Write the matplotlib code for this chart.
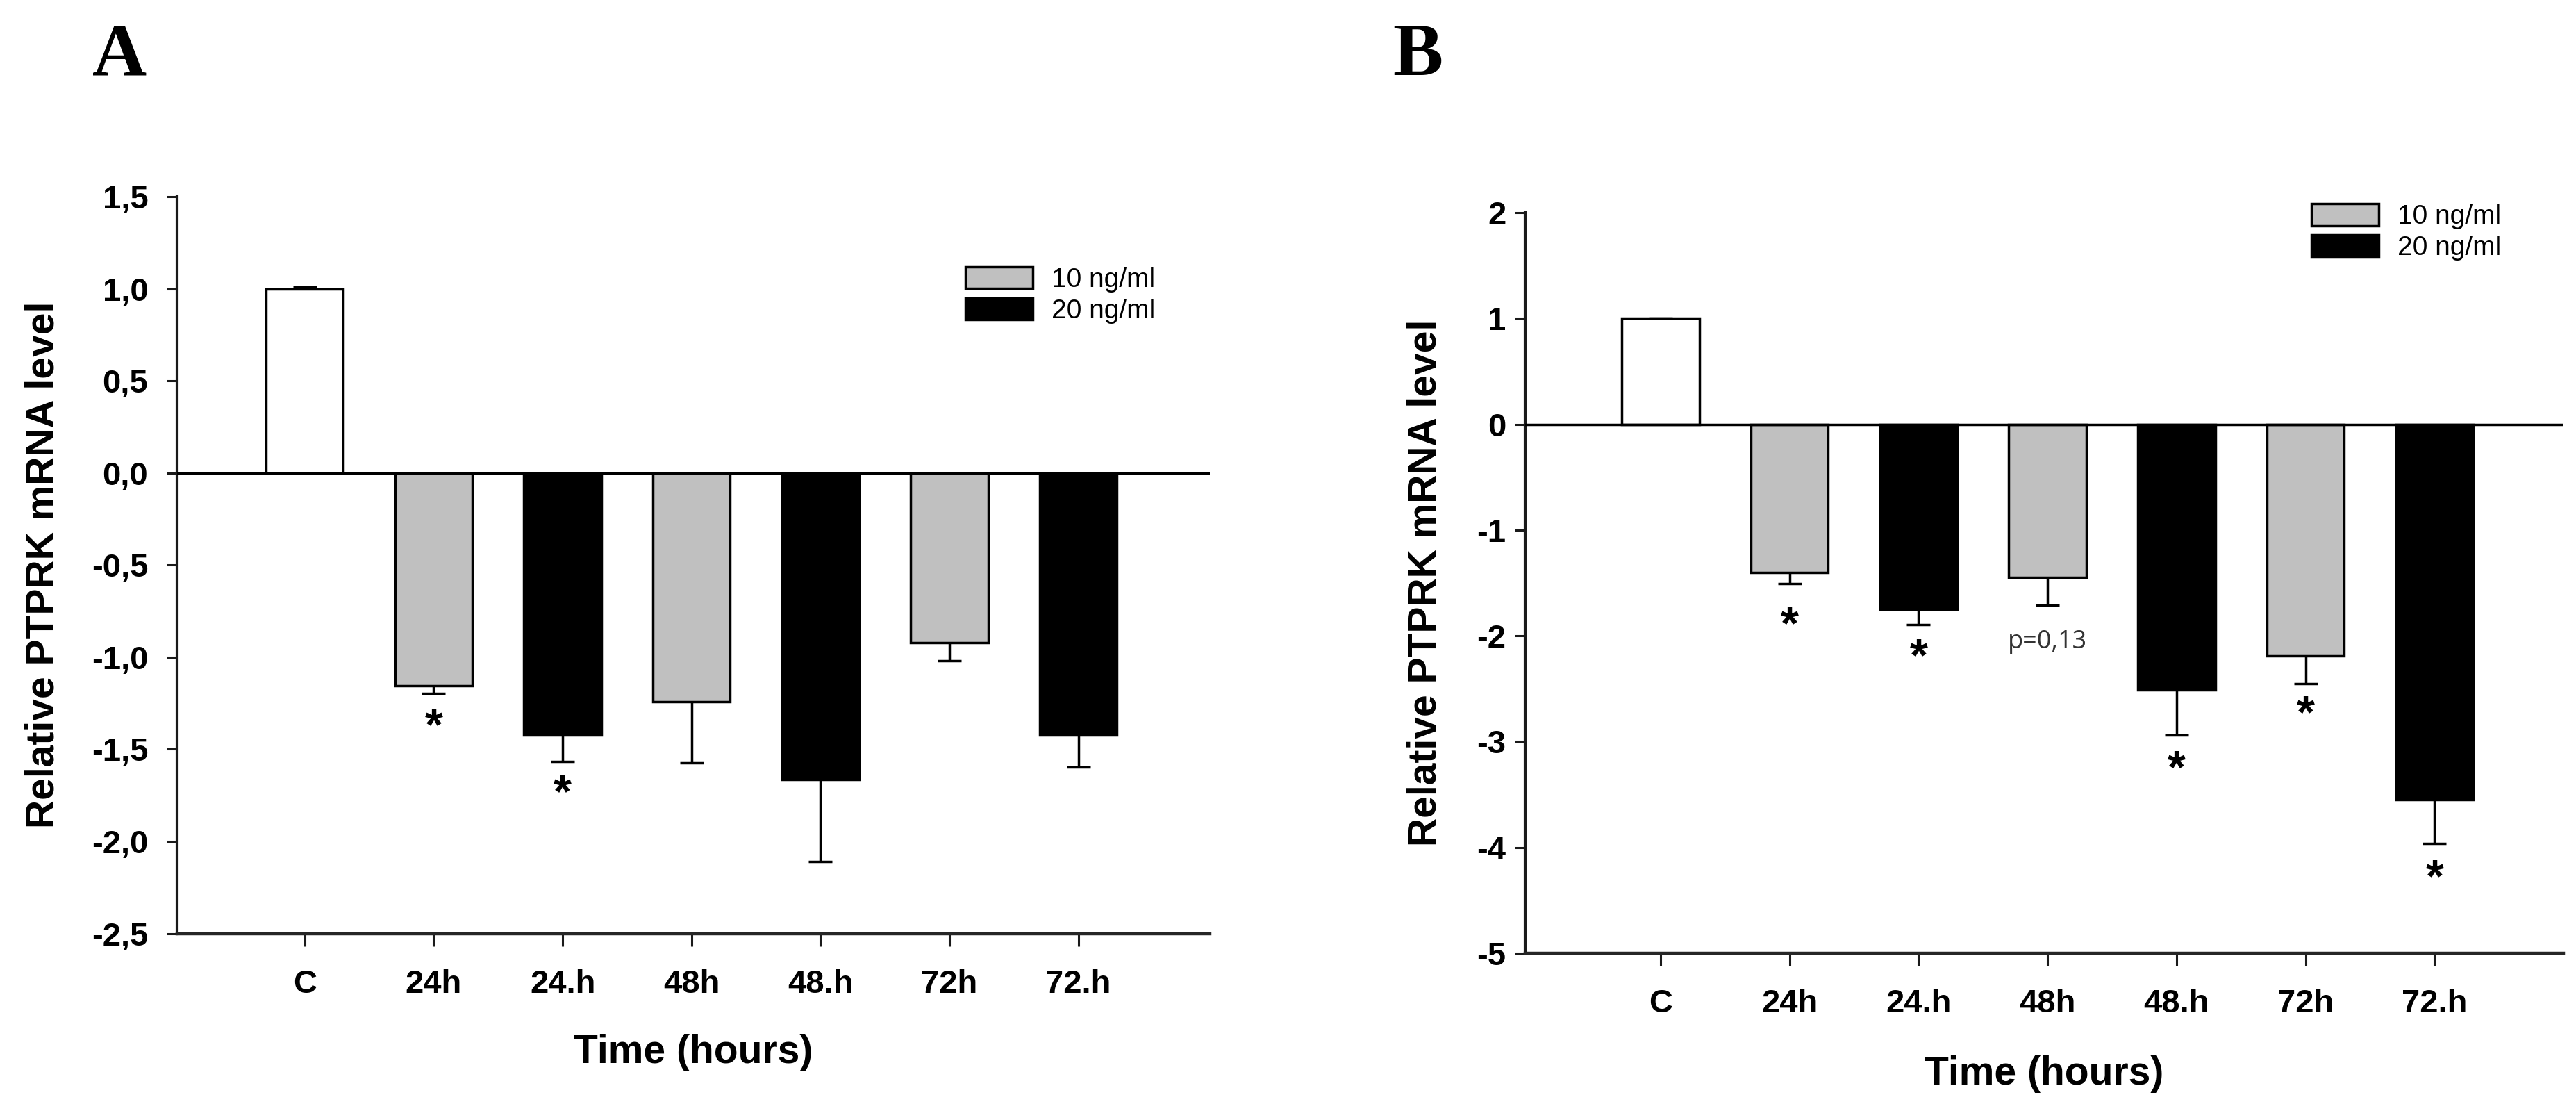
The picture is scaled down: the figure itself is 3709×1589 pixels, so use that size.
import numpy as np
import matplotlib
matplotlib.use("Agg")
import matplotlib.pyplot as plt
import matplotlib.transforms as mtransforms

# ---------------- data ----------------
categories = ['C', '24h', '24.h', '48h', '48.h', '72h', '72.h']
series_labels = ['10 ng/ml', '20 ng/ml']

a_values = [1.0, -1.155, -1.423, -1.242, -1.663, -0.921, -1.423]
a_errors = [0.01, 0.041, 0.145, 0.331, 0.446, 0.099, 0.174]
a_star_idx = [1, 2]
a_star_y = [-1.31, -1.67]
a_yticks = [1.5, 1.0, 0.5, 0.0, -0.5, -1.0, -1.5, -2.0, -2.5]
a_yticklabels = ['1,5', '1,0', '0,5', '0,0', '-0,5', '-1,0', '-1,5', '-2,0', '-2,5']

b_values = [1.0, -1.40, -1.75, -1.45, -2.51, -2.19, -3.55]
b_errors = [0.0, 0.105, 0.145, 0.26, 0.43, 0.26, 0.41]
b_star_idx = [1, 2, 4, 5, 6]
b_star_y = [-1.78, -2.08, -3.14, -2.62, -4.17]
b_note_idx = 3
b_note_y = -2.03
b_note_text = 'p=0,13'
b_yticks = [2, 1, 0, -1, -2, -3, -4, -5]
b_yticklabels = ['2', '1', '0', '-1', '-2', '-3', '-4', '-5']

xlabel = 'Time (hours)'
ylabel = 'Relative PTPRK mRNA level'

# ---------------- style ----------------
W, H = 3709, 1589
DPI = 100
fig = plt.figure(figsize=(W / DPI, H / DPI), dpi=DPI)
fig.patch.set_facecolor('white')

SANS = ['Liberation Sans', 'DejaVu Sans']
SERIF = ['Liberation Serif', 'DejaVu Serif']
GREY = '#c0c0c0'
bar_colors = ['white', GREY, 'black', GREY, 'black', GREY, 'black']

TICK_FS = 34
LABEL_FS = 41
LEG_FS = 28
STAR_FS = 48


def px_rect(left, top, right, bottom):
    return [left / W, 1 - bottom / H, (right - left) / W, (bottom - top) / H]


def draw_panel(ax, values, errors, yticks, yticklabels, ylim, xlim,
               star_idx, star_y, ytick_pad, xlab_y, ylab_x, leg_anchor):
    x = np.arange(len(categories))
    bars = ax.bar(x, values, width=0.6, color=bar_colors, edgecolor='black',
                  linewidth=2.5, zorder=3)
    vals = np.array(values)
    errs = np.array(errors)
    neg = vals < 0
    pos = ~neg
    # one-sided error bars (away from zero)
    if neg.any():
        eb = ax.errorbar(x[neg], vals[neg], yerr=[errs[neg], np.zeros(neg.sum())],
                         fmt='none', ecolor='black', elinewidth=2.5, capsize=12,
                         capthick=2.5, zorder=4)
        eb[1][1].set_visible(False)
    if pos.any():
        eb = ax.errorbar(x[pos], vals[pos], yerr=[np.zeros(pos.sum()), errs[pos]],
                         fmt='none', ecolor='black', elinewidth=2.5, capsize=12,
                         capthick=2.5, zorder=4)
        eb[1][0].set_visible(False)

    ax.axhline(0, color='black', linewidth=2.5, zorder=5)

    ax.set_xlim(*xlim)
    ax.set_ylim(*ylim)
    ax.set_xticks(x)
    ax.set_xticklabels(categories, fontsize=TICK_FS, fontweight='bold', family=SANS)
    ax.set_yticks(yticks)
    ax.set_yticklabels(yticklabels, fontsize=TICK_FS, fontweight='bold', family=SANS)
    ax.tick_params(axis='y', direction='out', length=11, width=2.2, pad=ytick_pad,
                   colors='#1a1a1a')
    ax.tick_params(axis='x', direction='out', length=13, width=2.2, pad=24,
                   colors='#1a1a1a')
    for lab in ax.get_xticklabels() + ax.get_yticklabels():
        lab.set_color('black')

    for s in ['top', 'right']:
        ax.spines[s].set_visible(False)
    ax.spines['left'].set_linewidth(3)
    ax.spines['bottom'].set_linewidth(3.2)
    ax.spines['left'].set_color('#1a1a1a')
    ax.spines['bottom'].set_color('#262626')

    ax.set_xlabel(xlabel, fontsize=LABEL_FS, fontweight='bold', family=SANS)
    ax.xaxis.set_label_coords(0.5, xlab_y)
    ax.set_ylabel(ylabel, fontsize=LABEL_FS, fontweight='bold', family=SANS)
    ax.yaxis.set_label_coords(ylab_x, 0.5)

    # significance stars: glyph centre placed at given y
    star_tr = mtransforms.offset_copy(ax.transData, fig=fig, y=-0.56 * STAR_FS,
                                      units='points')
    for i, yv in zip(star_idx, star_y):
        ax.text(x[i], yv, '*', ha='center', va='baseline', fontsize=STAR_FS,
                fontweight='bold', family=SANS, transform=star_tr, zorder=6)

    ax.legend([bars[1], bars[2]], series_labels, loc='upper left',
              bbox_to_anchor=leg_anchor, frameon=False,
              prop={'family': SANS, 'size': LEG_FS},
              handlelength=2.5, handleheight=0.87, handletextpad=0.7,
              labelspacing=0.2, borderpad=0, borderaxespad=0)
    return bars


# Panel A
axA = fig.add_axes(px_rect(255, 283, 1742, 1343.5))
draw_panel(axA, a_values, a_errors, a_yticks, a_yticklabels,
           ylim=(-2.5, 1.5), xlim=(-0.99, 7.02),
           star_idx=a_star_idx, star_y=a_star_y, ytick_pad=19,
           xlab_y=-0.136, ylab_x=-0.111, leg_anchor=(0.763, 0.905))

# Panel B
axB = fig.add_axes(px_rect(2196, 306, 3691, 1372))
draw_panel(axB, b_values, b_errors, b_yticks, b_yticklabels,
           ylim=(-5, 2), xlim=(-1.05, 7.0),
           star_idx=b_star_idx, star_y=b_star_y, ytick_pad=9,
           xlab_y=-0.138, ylab_x=-0.078, leg_anchor=(0.757, 1.012))

note_tr = mtransforms.offset_copy(axB.transData, fig=fig, y=-0.36 * 26, units='points')
axB.text(b_note_idx, b_note_y, b_note_text, ha='center', va='baseline', fontsize=26,
         family=['Open Sans', 'DejaVu Sans'], color='#333333', transform=note_tr,
         zorder=6)

# Panel letters
fig.text(133 / W, 1 - 108 / H, 'A', ha='left', va='baseline', fontsize=78,
         fontweight='bold', family=SERIF)
fig.text(2005 / W, 1 - 108 / H, 'B', ha='left', va='baseline', fontsize=78,
         fontweight='bold', family=SERIF)

fig.savefig('out.png', dpi=DPI, facecolor='white')
